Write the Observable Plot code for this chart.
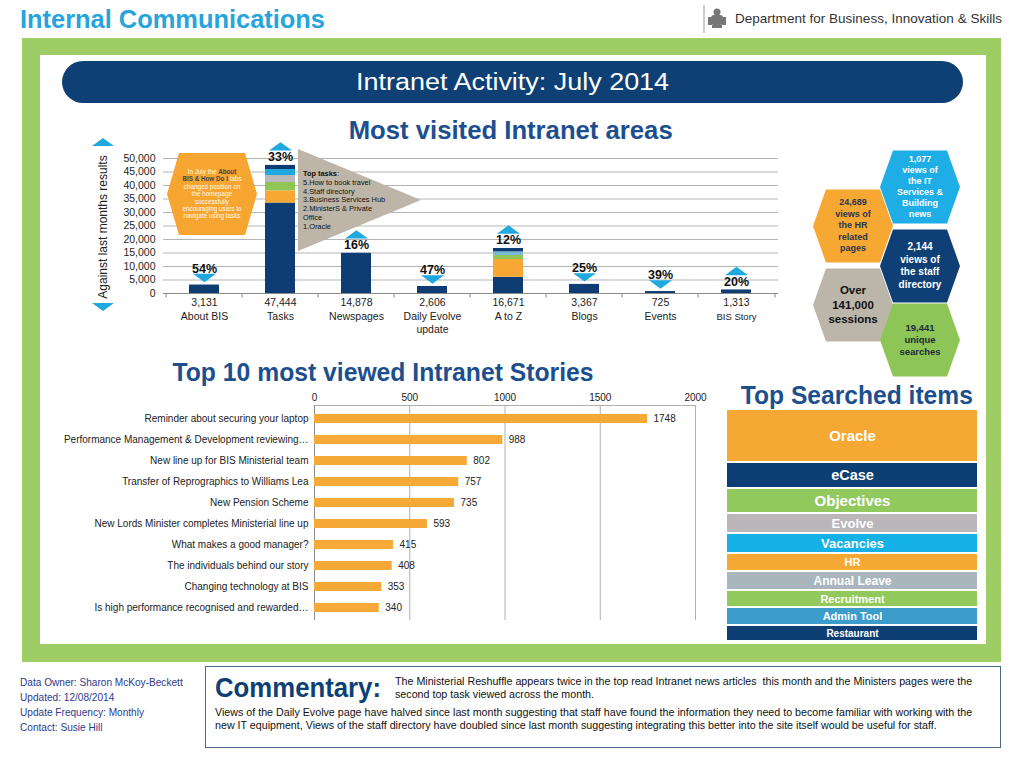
<!DOCTYPE html>
<html><head><meta charset="utf-8">
<script src="https://cdn.jsdelivr.net/npm/d3@7"></script>
<script src="https://cdn.jsdelivr.net/npm/@observablehq/plot@0.6"></script>
<style>
body{margin:0;background:#fff;font-family:"Liberation Sans",Arial,sans-serif;}
#page{position:relative;width:1024px;height:768px;overflow:hidden;background:#fff;}
.abs{position:absolute;}
.ctr{text-align:center;white-space:nowrap;}
.fit{display:inline-block;white-space:nowrap;}
.hex{position:absolute;text-align:center;font-weight:bold;white-space:nowrap;transform:translate(-50%,-50%);}
</style></head><body><div id="page">
<div class="abs" style="left:20px;top:3px;height:32px;line-height:32px;font-size:25px;font-weight:bold;color:#25a4dd;"><span class="fit" data-w="305" data-o="left">Internal Communications</span></div>
<svg class="abs" style="left:700px;top:3px" width="34" height="32">
 <line x1="4" y1="2" x2="4" y2="30" stroke="#999" stroke-width="1"/>
 <g fill="#777"><circle cx="17" cy="9" r="3.5"/><rect x="11" y="12" width="12" height="10" rx="3"/><rect x="8" y="14" width="4" height="8"/><rect x="22" y="14" width="4" height="8"/><rect x="12" y="22" width="10" height="3"/></g>
</svg>
<div class="abs" style="left:735px;top:3px;height:32px;line-height:32px;font-size:13.5px;color:#333;"><span class="fit" data-w="267" data-o="left">Department for Business, Innovation &amp; Skills</span></div>

<div class="abs" style="left:22px;top:38px;width:979px;height:624px;background:#9dcd64;"></div>
<div class="abs" style="left:40px;top:55px;width:946px;height:589px;background:#fff;"></div>
<div class="abs ctr" style="left:62px;top:61px;width:901px;height:42px;border-radius:21px;background:#0e4075;color:#fff;font-size:23px;line-height:42px;"><span class="fit" data-w="313" data-o="center">Intranet Activity: July 2014</span></div>

<div class="abs ctr" style="left:200px;top:114px;width:622px;height:32px;line-height:32px;font-size:25px;font-weight:bold;color:#1d4f8f;"><span class="fit" data-w="324" data-o="center">Most visited Intranet areas</span></div>
<div class="abs ctr" style="left:120px;top:356px;width:526px;height:32px;line-height:32px;font-size:25px;font-weight:bold;color:#1d4f8f;"><span class="fit" data-w="421" data-o="center">Top 10 most viewed Intranet Stories</span></div>
<div class="abs ctr" style="left:728px;top:379px;width:258px;height:32px;line-height:32px;font-size:25px;font-weight:bold;color:#1d4f8f;"><span class="fit" data-w="232" data-o="center">Top Searched items</span></div>

<div id="mainChart" class="abs" style="left:90px;top:140px;"></div>
<div id="storyChart" class="abs" style="left:60px;top:380px;"></div>
<div id="searchChart" class="abs" style="left:727px;top:410px;"></div>

<svg id="overlay" class="abs" style="left:0;top:0;pointer-events:none" width="1024" height="768"></svg>
<div id="overlayText" class="abs" style="left:0;top:0;width:1024px;height:768px;pointer-events:none"></div>

<div class="abs" style="left:103px;top:227px;transform:translate(-50%,-50%) rotate(-90deg);font-size:12px;color:#222;white-space:nowrap;">Against last months results</div>

<div class="abs" style="left:20px;top:675px;font-size:10.1px;color:#2e3a8c;line-height:15px;">Data Owner: Sharon McKoy-Beckett<br>Updated: 12/08/2014<br>Update Frequency: Monthly<br>Contact: Susie Hill</div>
<div class="abs" style="left:205px;top:666px;width:796px;height:82px;border:1px solid #48698c;box-sizing:border-box;"></div>
<div class="abs" style="left:215px;top:670px;height:36px;line-height:36px;font-size:28px;font-weight:bold;color:#0e3f75;"><span class="fit" data-w="166" data-o="left">Commentary:</span></div>
<div class="abs" style="left:395px;top:675px;font-size:10.7px;color:#111;line-height:12.5px;white-space:nowrap;">The Ministerial Reshuffle appears twice in the top read Intranet news articles &nbsp;this month and the Ministers pages were the<br>second top task viewed across the month.</div>
<div class="abs" style="left:215px;top:706px;font-size:10.7px;color:#111;line-height:13px;white-space:nowrap;">Views of the Daily Evolve page have halved since last month suggesting that staff have found the information they need to become familiar with working with the<br>new IT equipment, Views of the staff directory have doubled since last month suggesting integrating this better into the site itself would be useful for staff.</div>
</div>
<script>
// ---------- Data: Most visited Intranet areas ----------
const areas = ["About BIS","Tasks","Newspages","Daily Evolve\nupdate","A to Z","Blogs","Events","BIS Story"];
const areaTotals = [3131,47444,14878,2606,16671,3367,725,1313];
const areaChange = ["54%","33%","16%","47%","12%","25%","39%","20%"];
const areaTrend = ["down","up","up","down","up","down","down","up"];
const areaTicks = [0,5000,10000,15000,20000,25000,30000,35000,40000,45000,50000];
// stacked parts (bottom to top); the rest of the total sits on top
const tasksParts = [33500,4500,3100,2600,2200];   // 1.Oracle, 2.Ministers & Private Office, 3.Business Services Hub, 4.Staff directory, 5.How to book travel
const atozParts = [6000,6600,1500,1300];
const topTasks = ["5.How to book travel","4.Staff directory","3.Business Services Hub","2.MinisterS & Private\nOffice","1.Oracle"];

// ---------- Data: Top 10 stories ----------
const stories = ["Reminder about securing your laptop","Performance Management & Development reviewing…","New line up for BIS Ministerial team","Transfer of Reprographics to Williams Lea","New Pension Scheme","New Lords Minister completes Ministerial line up","What makes a good manager?","The individuals behind our story","Changing technology at BIS","Is high performance recognised and rewarded…"];
const storyViews = [1748,988,802,757,735,593,415,408,353,340];
const storyTicks = [0,500,1000,1500,2000];

// ---------- Data: Top searched items ----------
const searchItems = ["Oracle","eCase","Objectives","Evolve","Vacancies","HR","Annual Leave","Recruitment","Admin Tool","Restaurant"];
const searchWeight = [53,26,25,20,20,18,19,17,18,16];

// ---------- Data: callouts ----------
const hexStats = [
  ["1,077","views of","the IT","Services &","Building","news"],
  ["24,689","views of","the HR","related","pages"],
  ["2,144","views of","the staff","directory"],
  ["Over","141,000","sessions"],
  ["19,441","unique","searches"]
];

// ---------- Styles ----------
const NAVY="#0e3d73", ORANGE="#f6a734", GREEN="#8fc655", GREY="#b9b9b9", LBLUE="#1ea9e1", TRI="#1fa9df";
const tasksColors=[NAVY,ORANGE,GREEN,GREY,LBLUE];
const atozColors=[NAVY,ORANGE,GREEN,"#78b9d9"];
const searchColors=["#f6a834","#0d3e74","#92c95c","#bab6ba","#14b1e7","#f6a834","#a9b6be","#92c95c","#3c9dcc","#0d3e74"];
const searchFont=[15,14.5,15,13,13,11,12,11,11,10];
const font="'Liberation Sans', Arial, sans-serif";

// ---------- fit condensed headings to their widths ----------
document.querySelectorAll(".fit").forEach(el=>{
  const w=el.getBoundingClientRect().width, t=+el.dataset.w;
  el.style.transformOrigin=el.dataset.o==="left"?"left center":"center center";
  el.style.transform=`scaleX(${t/w})`;
});

// ---------- Main chart ----------
const rows = areas.map((a,i)=>({area:a,total:areaTotals[i],change:areaChange[i],trend:areaTrend[i]}));
const segs=[];
areas.forEach((a,i)=>{
  const parts = a==="Tasks"?tasksParts:a==="A to Z"?atozParts:[];
  const cols = a==="Tasks"?tasksColors:atozColors;
  let s=0;
  parts.forEach((v,j)=>{segs.push({area:a,value:v,color:cols[j]});s+=v;});
  segs.push({area:a,value:areaTotals[i]-s,color:NAVY});
});
const triUp={draw(c){c.moveTo(-11.5,4.2);c.lineTo(11.5,4.2);c.lineTo(0,-4.2);c.closePath();}};
const triDown={draw(c){c.moveTo(-11.5,-4.2);c.lineTo(11.5,-4.2);c.lineTo(0,4.2);c.closePath();}};
const ups=rows.filter(d=>d.trend==="up"), downs=rows.filter(d=>d.trend==="down");
const fmt=d3.format(",");
const bandHalf = 615/8/2;

const main = Plot.plot({
  width:710,height:190,marginLeft:73,marginRight:22,marginTop:18,marginBottom:37,
  x:{domain:areas,paddingInner:0.6,paddingOuter:0.3,axis:null},
  y:{domain:[0,50000]},
  color:{type:"identity"},
  style:{fontFamily:font,color:"#222",background:"transparent",overflow:"visible"},
  marks:[
    Plot.gridY(areaTicks,{stroke:"#b5b5b5",strokeOpacity:1}),
    Plot.axisY(areaTicks,{tickSize:0,tickPadding:8,fontSize:10.5,tickFormat:fmt,label:null}),
    Plot.barY(segs,{x:"area",y:"value",fill:"color"}),
    Plot.ruleY([0],{stroke:"#8a8a8a"}),
    Plot.ruleX(areas,{x:d=>d,dx:-bandHalf,y1:0,y2:-1700,stroke:"#8a8a8a"}),
    Plot.ruleX([areas[areas.length-1]],{x:d=>d,dx:bandHalf,y1:0,y2:-1700,stroke:"#8a8a8a"}),
    Plot.text(rows,{x:"area",y:0,text:d=>fmt(d.total),dy:9,fontSize:10.5}),
    Plot.text(rows,{x:"area",y:0,text:"area",lineAnchor:"top",dy:18,lineHeight:1.2,fontSize:d=>d.area==="BIS Story"?9.5:10.5}),
    Plot.dot(ups,{x:"area",y:"total",symbol:triUp,r:5,fill:TRI,stroke:null,dy:-19}),
    Plot.dot(downs,{x:"area",y:"total",symbol:triDown,r:5,fill:TRI,stroke:null,dy:-7}),
    Plot.text(ups,{x:"area",y:"total",text:"change",dy:-8,fontSize:12.5,fontWeight:"bold",fill:"#111"}),
    Plot.text(downs,{x:"area",y:"total",text:"change",dy:-16.5,fontSize:12.5,fontWeight:"bold",fill:"#111"})
  ]
});
document.getElementById("mainChart").append(main);

// ---------- Stories chart ----------
const storyRows = stories.map((s,i)=>({story:s,views:storyViews[i]}));
const storyPlot = Plot.plot({
  width:680,height:245,marginLeft:254,marginRight:45,marginTop:25,marginBottom:5,
  x:{domain:[0,2000],axis:null},
  y:{domain:stories,paddingInner:0.58,paddingOuter:0.29},
  style:{fontFamily:font,color:"#222",background:"transparent",overflow:"visible"},
  marks:[
    Plot.gridX(storyTicks,{stroke:"#b0b0b0",strokeOpacity:1}),
    Plot.frame({anchor:"top",stroke:"#b0b0b0"}),
    Plot.ruleX([0],{stroke:"#8a8a8a"}),
    Plot.axisX(storyTicks,{anchor:"top",tickSize:0,tickPadding:5,fontSize:10,label:null,tickFormat:d=>String(d)}),
    Plot.axisY({tickSize:0,tickPadding:6,fontSize:10,label:null}),
    Plot.barX(storyRows,{x:"views",y:"story",fill:"#f6a936"}),
    Plot.text(storyRows,{x:"views",y:"story",text:d=>String(d.views),dx:6,textAnchor:"start",fontSize:10,fill:"#222"})
  ]
});
document.getElementById("storyChart").append(storyPlot);

// ---------- Top searched ----------
let acc=0;
const searchRows = searchItems.map((s,i)=>{const r={item:s,y1:acc,y2:acc+searchWeight[i],color:searchColors[i],fs:searchFont[i]};acc+=searchWeight[i];return r;});
const searchPlot = Plot.plot({
  width:250,height:232,margin:0,
  x:{domain:[0,1],axis:null},
  y:{domain:[0,acc],reverse:true,axis:null},
  color:{type:"identity"},
  style:{fontFamily:font,background:"transparent",overflow:"visible"},
  marks:[
    Plot.rect(searchRows,{x1:0,x2:1,y1:"y1",y2:"y2",fill:"color",insetBottom:2}),
    Plot.text(searchRows,{x:0.5,y:d=>(d.y1+d.y2)/2,text:"item",fill:"#fff",fontWeight:"bold",fontSize:"fs",dy:-1})
  ]
});
document.getElementById("searchChart").append(searchPlot);

// ---------- Overlay shapes (annotations) ----------
const svg = d3.select("#overlay");
const txt = d3.select("#overlayText");
function hexPts(cx,cy,w,h,k){return [[cx-w/2,cy],[cx-w/2+k,cy-h/2],[cx+w/2-k,cy-h/2],[cx+w/2,cy],[cx+w/2-k,cy+h/2],[cx-w/2+k,cy+h/2]].map(p=>p.join(",")).join(" ");}
svg.append("polygon").attr("points","92,146 114,146 103,138").attr("fill",TRI);
svg.append("polygon").attr("points","92,303 114,303 103,311").attr("fill",TRI);
svg.append("polygon").attr("points",hexPts(212,194,90,82,12)).attr("fill","#f6a531");
txt.append("div").attr("class","hex").style("left","212px").style("top","194px").style("font-size","6.3px").style("line-height","7.4px").style("font-weight","normal").style("color","#fff8ea")
  .html('In July the <b style="color:#444">About</b><br><b style="color:#444">BIS &amp; How Do I</b> tabs<br>changed position on<br>the homepage<br>successfully<br>encouraging users to<br>navigate using tasks');
svg.append("polygon").attr("points","298,149 421,200 298,251").attr("fill","#bcb5a8");
txt.append("div").attr("class","abs").style("left","303px").style("top","170px").style("font-size","7.4px").style("line-height","8.8px").style("color","#111").style("white-space","nowrap")
  .html('<b>Top tasks</b>:<br>'+topTasks.map(t=>t.replace("\n","<br>")).join("<br>"));
const hexLayout=[
  {cx:920,cy:187,fill:"#1fade5",color:"#fff",fs:9,lh:11},
  {cx:853,cy:226,fill:"#f6a833",color:"#2a3550",fs:9,lh:11.5},
  {cx:920,cy:266,fill:"#0e3f75",color:"#fff",fs:10,lh:12.5},
  {cx:853,cy:305,fill:"#bbb5aa",color:"#111",fs:11.5,lh:14.5},
  {cx:920,cy:340,fill:"#8dc556",color:"#1d2b3a",fs:9.5,lh:12}
];
hexStats.forEach((lines,i)=>{
  const L=hexLayout[i];
  svg.append("polygon").attr("points",hexPts(L.cx,L.cy,80,73,13)).attr("fill",L.fill);
  txt.append("div").attr("class","hex").style("left",L.cx+"px").style("top",L.cy+"px").style("font-size",L.fs+"px").style("line-height",L.lh+"px").style("color",L.color).html(lines.join("<br>"));
});
</script>
</body></html>
